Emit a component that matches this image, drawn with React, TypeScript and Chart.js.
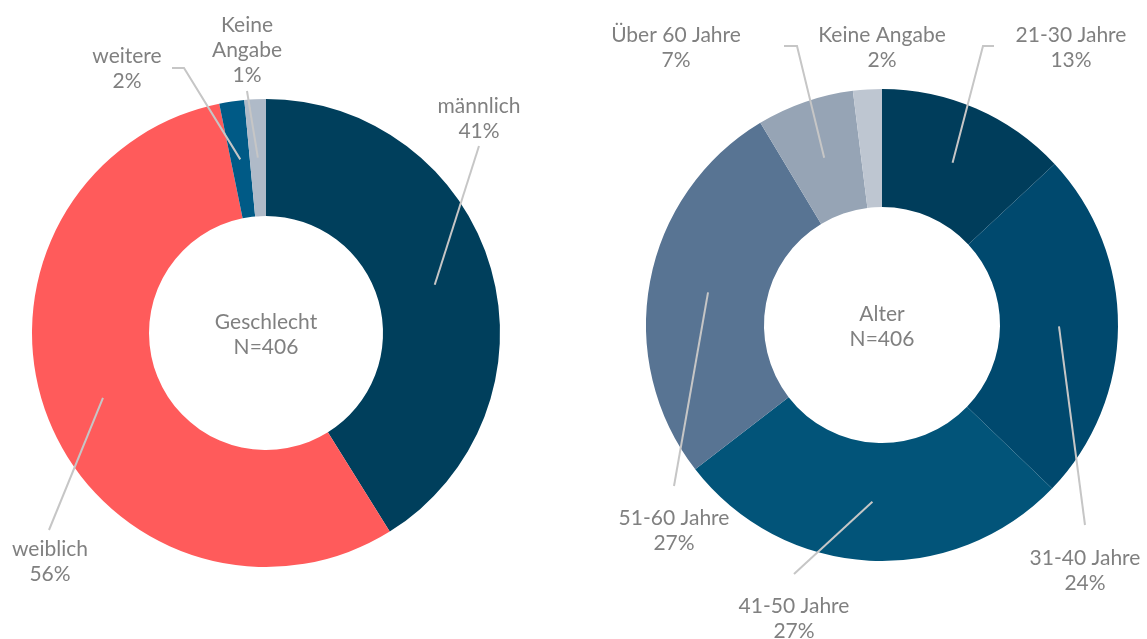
import React, { useEffect, useRef } from "react";
import { Chart, registerables } from "chart.js";

Chart.register(...registerables);

// ---------- data ----------
const genderLabels = ["männlich", "weiblich", "weitere", "Keine Angabe"];
const genderCounts = [167, 226, 7, 6];
const genderColors = ["#003f5c", "#ff5b5b", "#005a86", "#afbac8"];

const ageLabels = ["21-30 Jahre", "31-40 Jahre", "41-50 Jahre", "51-60 Jahre", "Über 60 Jahre", "Keine Angabe"];
const ageCounts = [53, 98, 111, 109, 27, 8];
const ageColors = ["#003d5b", "#00496e", "#025479", "#587493", "#96a4b5", "#bec6d1"];

const genderTitle = ["Geschlecht", "N=406"];
const ageTitle = ["Alter", "N=406"];

// ---------- label layout (offsets from doughnut centre) ----------
type LabelLayout = {
  lines: string[] | null; // null -> "label" + "pct"
  tx: number;
  ty: number; // baseline of first line
  end: [number, number] | null;
  elbow?: [number, number];
};

const genderLayout: LabelLayout[] = [
  { lines: null, tx: 213, ty: -220, end: [213, -187] },
  { lines: null, tx: -216, ty: 223, end: [-217, 197] },
  { lines: null, tx: -139, ty: -270, end: [-82, -265], elbow: [-94, -265] },
  { lines: ["Keine", "Angabe"], tx: -19, ty: -301, end: [-19, -242] },
];

const ageLayout: LabelLayout[] = [
  { lines: null, tx: 189, ty: -283, end: [101, -279], elbow: [112, -279] },
  { lines: null, tx: 203, ty: 240, end: [203, 200] },
  { lines: null, tx: -88, ty: 288, end: [-88, 249] },
  { lines: null, tx: -208, ty: 200, end: [-208, 161] },
  { lines: null, tx: -206, ty: -283, end: [-85, -279], elbow: [-98, -279] },
  { lines: null, tx: 0, ty: -283, end: null },
];

const FONT = "21px Lato, 'Noto Sans', sans-serif";
const TEXT_COLOR = "#808080";
const LINE_COLOR = "#c6c6c6";
const LINE_H = 25;

function makeLabelPlugin(labels: string[], counts: number[], layout: LabelLayout[], title: string[]) {
  return {
    id: "doughnutLabels",
    afterDraw(chart: any) {
      const ctx = chart.ctx as CanvasRenderingContext2D;
      const meta = chart.getDatasetMeta(0);
      const total = counts.reduce((a, b) => a + b, 0);
      ctx.save();
      meta.data.forEach((arc: any, i: number) => {
        const p = arc.getProps(["x", "y", "startAngle", "endAngle", "innerRadius", "outerRadius"], true);
        const cx = p.x;
        const cy = p.y;
        const lay = layout[i];
        if (!lay) return;
        const mid = (p.startAngle + p.endAngle) / 2;
        const r = (p.innerRadius + p.outerRadius) / 2;
        const sx = cx + Math.cos(mid) * r;
        const sy = cy + Math.sin(mid) * r;
        if (lay.end) {
          ctx.beginPath();
          ctx.strokeStyle = LINE_COLOR;
          ctx.lineWidth = 2;
          ctx.lineJoin = "miter";
          ctx.moveTo(sx, sy);
          ctx.lineTo(cx + lay.end[0], cy + lay.end[1]);
          if (lay.elbow) ctx.lineTo(cx + lay.elbow[0], cy + lay.elbow[1]);
          ctx.stroke();
        }
        const pct = Math.round((counts[i] / total) * 100) + "%";
        const lines = (lay.lines ? lay.lines : [labels[i]]).concat([pct]);
        ctx.font = FONT;
        ctx.fillStyle = TEXT_COLOR;
        ctx.textAlign = "center";
        ctx.textBaseline = "alphabetic";
        lines.forEach((t, k) => ctx.fillText(t, cx + lay.tx, cy + lay.ty + k * LINE_H));
      });
      // centre text
      const a0 = meta.data[0].getProps(["x", "y"], true);
      ctx.font = FONT;
      ctx.fillStyle = TEXT_COLOR;
      ctx.textAlign = "center";
      ctx.fillText(title[0], a0.x, a0.y - 4);
      ctx.fillText(title[1], a0.x, a0.y + 21);
      ctx.restore();
    },
  };
}

function Doughnut(props: {
  labels: string[];
  counts: number[];
  colors: string[];
  layout: LabelLayout[];
  title: string[];
  padding: { left: number; right: number; top: number; bottom: number };
}) {
  const ref = useRef<HTMLCanvasElement | null>(null);
  useEffect(() => {
    if (!ref.current) return;
    const chart = new Chart(ref.current, {
      type: "doughnut",
      data: {
        labels: props.labels,
        datasets: [
          {
            data: props.counts,
            backgroundColor: props.colors,
            borderWidth: 0,
            hoverOffset: 0,
          },
        ],
      },
      options: {
        responsive: false,
        animation: false,
        events: [],
        cutout: "50%",
        layout: { padding: props.padding },
        plugins: {
          legend: { display: false },
          tooltip: { enabled: false },
          title: { display: false },
        },
      },
      plugins: [makeLabelPlugin(props.labels, props.counts, props.layout, props.title)],
    } as any);
    return () => chart.destroy();
  }, []);
  return (
    <canvas
      ref={ref}
      width={1147}
      height={639}
      style={{ position: "absolute", left: 0, top: 0, width: 1147, height: 639 }}
    />
  );
}

export default function App() {
  useEffect(() => {
    document.body.style.margin = "0";
    document.body.style.background = "#ffffff";
  }, []);
  return (
    <div style={{ position: "absolute", left: 0, top: 0, width: 1147, height: 639, background: "#fff", overflow: "hidden" }}>
      <Doughnut
        labels={genderLabels}
        counts={genderCounts}
        colors={genderColors}
        layout={genderLayout}
        title={genderTitle}
        padding={{ left: 32, right: 647, top: 99, bottom: 72 }}
      />
      <Doughnut
        labels={ageLabels}
        counts={ageCounts}
        colors={ageColors}
        layout={ageLayout}
        title={ageTitle}
        padding={{ left: 646, right: 29, top: 89, bottom: 78 }}
      />
    </div>
  );
}
